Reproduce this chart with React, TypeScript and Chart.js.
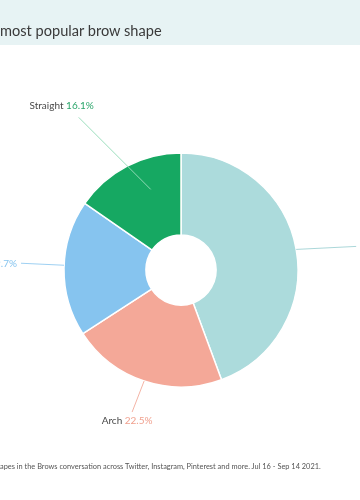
import React, { useEffect, useRef } from "react";
import { Chart, registerables } from "chart.js";

Chart.register(...registerables);

// ---- data ----
const categories = ["(right slice)", "Arch", "(left slice)", "Straight"];
const values = [46.5, 22.5, 19.7, 16.1];
const valueLabels = ["", "22.5%", "19.7%", "16.1%"];
const nameLabels = ["", "Arch", "", "Straight"];
const sliceColors = ["#acdbdc", "#f4a898", "#86c4ef", "#16a862"];
const labelColors = ["#8cc9cb", "#f0a08e", "#86c4ef", "#2aa56a"];
const leaderColors = ["rgba(150,205,208,0.8)", "rgba(240,160,142,0.8)", "rgba(134,196,239,0.8)", "rgba(150,220,185,0.95)"];

const titleText = "most popular brow shape";
const footerText =
  "apes in the Brows conversation across Twitter, Instagram, Pinterest and more. Jul 16 - Sep 14 2021.";

// leader line geometry, relative to the mid point of each slice's outer edge
const leaderOut = [[60, -3], [-12, 31], [-43, -5], [-48, -49]];
const leaderIn = [[0, 0], [0, 0], [0, -3], [24, 23]];
// label offset from leader end and alignment
const labelOffset = [[2, -1], [-5, 9], [-4, 1], [-17, -12]];
const labelAlign: ("left" | "center" | "right")[] = ["left", "center", "right", "center"];

const FONT = "Lato, 'Open Sans', sans-serif";

const leaderPlugin = {
  id: "leaders",
  afterDatasetsDraw(chart: any) {
    const ctx = chart.ctx as CanvasRenderingContext2D;
    const meta = chart.getDatasetMeta(0);
    meta.data.forEach((arc: any, i: number) => {
      const p = arc.getProps(["x", "y", "startAngle", "endAngle", "outerRadius"], true);
      const mid = (p.startAngle + p.endAngle) / 2;
      const px = p.x + Math.cos(mid) * p.outerRadius;
      const py = p.y + Math.sin(mid) * p.outerRadius;
      const sx = px + leaderIn[i][0];
      const sy = py + leaderIn[i][1];
      const ex = px + leaderOut[i][0];
      const ey = py + leaderOut[i][1];
      ctx.save();
      ctx.strokeStyle = leaderColors[i];
      ctx.lineWidth = 1;
      ctx.beginPath();
      ctx.moveTo(sx, sy);
      ctx.lineTo(ex, ey);
      ctx.stroke();

      const name = nameLabels[i] ? nameLabels[i] + " " : "";
      const val = valueLabels[i];
      if (name || val) {
        ctx.font = `10px ${FONT}`;
        ctx.textBaseline = "middle";
        ctx.textAlign = "left";
        const wn = ctx.measureText(name).width;
        const wv = ctx.measureText(val).width;
        const total = wn + wv;
        const ax = ex + labelOffset[i][0];
        const ay = ey + labelOffset[i][1];
        let x0 = ax;
        if (labelAlign[i] === "center") x0 = ax - total / 2;
        else if (labelAlign[i] === "right") x0 = ax - total;
        ctx.fillStyle = "#4a4a4a";
        ctx.fillText(name, x0, ay);
        ctx.fillStyle = labelColors[i];
        ctx.fillText(val, x0 + wn, ay);
      }
      ctx.restore();
    });
  },
};

export default function App() {
  const ref = useRef<HTMLCanvasElement | null>(null);

  useEffect(() => {
    if (!ref.current) return;
    const chart = new Chart(ref.current, {
      type: "doughnut",
      data: {
        labels: categories,
        datasets: [
          {
            data: values,
            backgroundColor: sliceColors,
            borderColor: "#ffffff",
            borderWidth: 1.5,
            hoverOffset: 0,
          },
        ],
      },
      options: {
        animation: false,
        responsive: false,
        radius: 117,
        cutout: "30%",
        layout: { padding: { left: 2, right: 0, top: 40, bottom: 0 } },
        plugins: {
          legend: { display: false },
          tooltip: { enabled: false },
          title: { display: false },
        },
      },
      plugins: [leaderPlugin],
    });
    return () => chart.destroy();
  }, []);

  return (
    <div
      style={{
        position: "absolute",
        left: 0,
        top: 0,
        width: 360,
        height: 500,
        background: "#ffffff",
        overflow: "hidden",
        fontFamily: FONT,
      }}
    >
      <div
        style={{
          position: "absolute",
          left: 0,
          top: 0,
          width: 360,
          height: 45,
          background: "#e7f3f4",
        }}
      />
      <canvas
        ref={ref}
        width={360}
        height={500}
        style={{ position: "absolute", left: 0, top: 0, width: 360, height: 500 }}
      />
      <div
        style={{
          position: "absolute",
          left: 0,
          top: 23,
          fontSize: 14.6,
          lineHeight: "15px",
          color: "#3a3a3a",
          whiteSpace: "nowrap",
        }}
      >
        {titleText}
      </div>
      <div
        style={{
          position: "absolute",
          left: 0,
          top: 463,
          fontSize: 7.4,
          lineHeight: "7px",
          color: "#555555",
          whiteSpace: "nowrap",
        }}
      >
        {footerText}
      </div>
    </div>
  );
}
